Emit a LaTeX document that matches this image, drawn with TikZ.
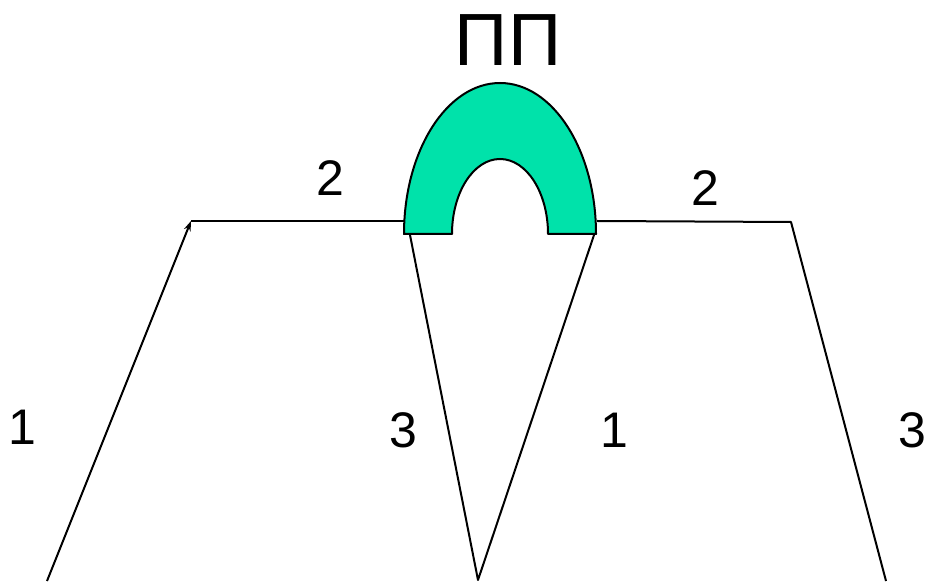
\documentclass[tikz,border=0pt]{standalone}
\usepackage{fontspec}
\setmainfont{Liberation Sans}
\usetikzlibrary{arrows.meta}
\definecolor{archgreen}{RGB}{0,226,170}
\begin{document}
\begin{tikzpicture}[x=1pt,y=1pt,
  ln/.style={line width=2pt,line join=round},
  lbl/.style={inner sep=0pt,font=\fontsize{50}{50}\selectfont},
  big/.style={inner sep=0pt,font=\fontsize{74}{74}\selectfont}]
\useasboundingbox (0,0) rectangle (931,581);
\coordinate (A) at (47,0);
\coordinate (B) at (191,360);
\coordinate (C) at (404,360);
\coordinate (D) at (410,346);
\coordinate (E) at (478,1);
\coordinate (F) at (594,346);
\coordinate (G) at (597,360);
\coordinate (H) at (791,359);
\coordinate (I) at (886,0);
% arch
\filldraw[ln,fill=archgreen] (404,347) arc[start angle=180,end angle=0,x radius=96pt,y radius=151pt]
  -- (548,347) arc[start angle=0,end angle=180,x radius=48pt,y radius=75pt] -- cycle;
\draw[ln,-{Stealth[length=10pt,width=7pt]}] (A) -- (B);
\draw[ln] (B) -- (C);
\draw[ln] (D) -- (E) -- (F);
\draw[ln] (G) -- (H) -- (I);
\node[big] (pp) at (508,541) {ПП};
\node[lbl] (l2a) at (330,403) {2};
\node[lbl] (l2b) at (705,393) {2};
\node[lbl] (l1a) at (22,154) {1};
\node[lbl] (l3a) at (403,151) {3};
\node[lbl] (l1b) at (614,151) {1};
\node[lbl] (l3b) at (912,151) {3};
\end{tikzpicture}
\end{document}
